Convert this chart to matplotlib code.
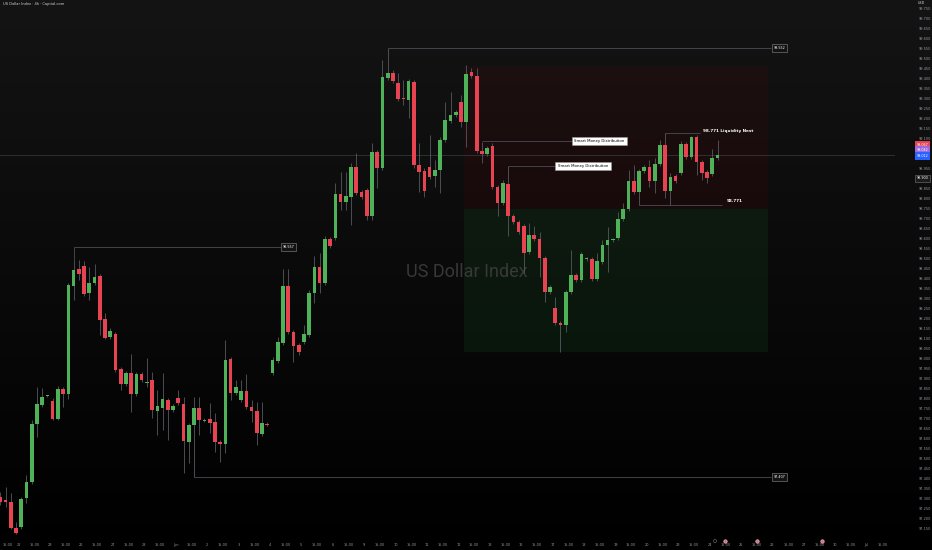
import matplotlib.pyplot as plt
import matplotlib.transforms as mtransforms
from matplotlib.colors import LinearSegmentedColormap
from matplotlib.patches import Rectangle
import numpy as np

# 4h candles
opens = [97.307, 97.292, 97.282, 97.152, 97.157, 97.302, 97.382, 97.672, 97.767, 97.812,
         97.787, 97.697, 97.847, 97.822, 98.362, 98.447, 98.462, 98.327, 98.377, 98.412,
         98.197, 98.107, 98.122, 97.947, 97.872, 97.927, 97.822, 97.922, 97.879, 97.892,
         97.737, 97.752, 97.792, 97.742, 97.802, 97.772, 97.582, 97.667, 97.752, 97.689,
         97.697, 97.682, 97.582, 97.572, 97.997, 97.827, 97.792, 97.837, 97.757, 97.737,
         97.622, 97.674, 97.927, 97.987, 98.077, 98.362, 98.132, 98.067, 98.082, 98.117,
         98.327, 98.457, 98.377, 98.597, 98.602, 98.822, 98.782, 98.807, 98.957, 98.832,
         98.842, 98.712, 99.032, 98.952, 99.402, 99.427, 99.377, 99.300, 99.292, 99.382,
         98.967, 98.937, 98.957, 98.912, 98.942, 99.092, 99.187, 99.217, 99.282, 99.182,
         99.432, 99.412, 99.037, 99.022, 99.062, 98.857, 98.777, 98.872, 98.712, 98.682,
         98.662, 98.532, 98.617, 98.597, 98.502, 98.332, 98.252, 98.177, 98.167, 98.332,
         98.417, 98.392, 98.495, 98.497, 98.397, 98.482, 98.567, 98.590, 98.602, 98.697,
         98.747, 98.887, 98.832, 98.937, 98.957, 98.887, 98.972, 99.067, 98.837, 98.912,
         98.927, 99.072, 99.007, 99.107, 98.982, 98.932, 98.922, 99.002]
highs = [97.332, 97.357, 97.327, 97.182, 97.307, 97.417, 97.692, 97.857, 97.852, 97.817,
         97.802, 97.862, 97.857, 98.377, 98.492, 98.492, 98.487, 98.457, 98.472, 98.422,
         98.227, 98.152, 98.132, 97.957, 97.937, 98.022, 97.932, 97.932, 98.002, 97.932,
         97.842, 97.927, 97.802, 97.772, 97.842, 97.807, 97.677, 97.807, 97.807, 97.702,
         97.777, 97.727, 97.592, 98.092, 98.007, 97.892, 97.892, 97.922, 97.792, 97.782,
         97.782, 97.682, 98.007, 98.107, 98.447, 98.447, 98.142, 98.077, 98.167, 98.342,
         98.512, 98.527, 98.612, 98.607, 98.877, 98.932, 98.932, 98.977, 99.027, 98.842,
         98.852, 99.077, 99.042, 99.492, 99.552, 99.442, 99.427, 99.392, 99.397, 99.392,
         99.077, 98.952, 99.117, 98.992, 99.107, 99.282, 99.332, 99.242, 99.317, 99.467,
         99.452, 99.452, 99.082, 99.062, 99.077, 98.867, 98.892, 98.962, 98.722, 98.692,
         98.672, 98.677, 98.662, 98.632, 98.512, 98.367, 98.307, 98.187, 98.342, 98.542,
         98.427, 98.532, 98.507, 98.507, 98.527, 98.592, 98.657, 98.602, 98.732, 98.777,
         98.942, 98.967, 98.947, 98.967, 98.992, 99.002, 99.092, 99.127, 98.927, 98.922,
         99.087, 99.082, 99.112, 99.117, 98.992, 98.942, 99.047, 99.092]
lows = [97.267, 97.257, 97.147, 97.122, 97.147, 97.277, 97.372, 97.607, 97.757, 97.807,
        97.692, 97.692, 97.757, 97.797, 98.292, 98.392, 98.312, 98.292, 98.367, 98.117,
        98.097, 98.097, 97.932, 97.842, 97.862, 97.732, 97.812, 97.882, 97.857, 97.702,
        97.617, 97.642, 97.592, 97.732, 97.767, 97.427, 97.477, 97.407, 97.617, 97.682,
        97.627, 97.532, 97.482, 97.527, 97.792, 97.817, 97.782, 97.747, 97.682, 97.567,
        97.612, 97.662, 97.917, 97.977, 98.067, 98.122, 97.982, 98.017, 98.072, 98.107,
        98.277, 98.327, 98.367, 98.552, 98.592, 98.742, 98.742, 98.667, 98.817, 98.797,
        98.692, 98.692, 98.852, 98.942, 99.392, 99.377, 99.287, 99.267, 99.202, 98.952,
        98.832, 98.807, 98.897, 98.857, 98.827, 99.082, 99.177, 99.207, 99.157, 99.057,
        99.402, 99.027, 98.977, 99.012, 98.847, 98.712, 98.767, 98.612, 98.672, 98.622,
        98.427, 98.522, 98.587, 98.407, 98.282, 98.322, 98.167, 98.032, 98.132, 98.322,
        98.382, 98.382, 98.487, 98.387, 98.387, 98.472, 98.432, 98.582, 98.592, 98.687,
        98.737, 98.822, 98.767, 98.927, 98.857, 98.827, 98.962, 98.802, 98.767, 98.877,
        98.917, 98.997, 98.997, 98.917, 98.892, 98.877, 98.912, 98.992]
closes = [97.282, 97.282, 97.152, 97.127, 97.297, 97.382, 97.672, 97.772, 97.807, 97.815,
          97.697, 97.847, 97.822, 98.367, 98.442, 98.422, 98.322, 98.377, 98.407, 98.192,
          98.102, 98.137, 97.942, 97.872, 97.927, 97.822, 97.922, 97.892, 97.884, 97.742,
          97.762, 97.797, 97.742, 97.762, 97.777, 97.587, 97.667, 97.752, 97.692, 97.694,
          97.677, 97.582, 97.572, 97.992, 97.827, 97.857, 97.837, 97.757, 97.737, 97.627,
          97.677, 97.669, 97.992, 98.082, 98.362, 98.132, 98.062, 98.032, 98.122, 98.327,
          98.457, 98.377, 98.597, 98.562, 98.822, 98.782, 98.812, 98.957, 98.827, 98.807,
          98.712, 99.032, 98.952, 99.407, 99.427, 99.387, 99.297, 99.295, 99.387, 98.967,
          98.932, 98.837, 98.907, 98.942, 99.092, 99.192, 99.217, 99.232, 99.182, 99.422,
          99.412, 99.037, 99.022, 99.052, 98.857, 98.777, 98.877, 98.712, 98.682, 98.632,
          98.527, 98.617, 98.597, 98.502, 98.332, 98.357, 98.177, 98.167, 98.332, 98.417,
          98.392, 98.522, 98.500, 98.397, 98.487, 98.567, 98.592, 98.595, 98.697, 98.747,
          98.887, 98.832, 98.937, 98.957, 98.887, 98.972, 99.067, 98.837, 98.907, 98.887,
          99.072, 99.007, 99.107, 98.982, 98.927, 98.902, 99.002, 99.017]

day_labels = ["22", "23", "26", "27", "28", "Jun", "2", "3", "4", "5", "6", "9", "10", "11",
              "12", "13", "16", "17", "18", "19", "20", "23", "24", "25", "26", "27", "30", "Jul"]

# levels drawn on the chart
swing_high = 99.552
swing_mid = 98.557
swing_low = 97.407
liq_nest = 99.127
nest_low = 98.767
smd1 = 99.087
smd2 = 98.962
zone_top = 99.462
zone_mid = 98.747
zone_bot = 98.032
marked_price = 98.900

W, H = 932, 550
fig = plt.figure(figsize=(W / 100, H / 100), dpi=100)
fig.patch.set_facecolor('black')

bg = fig.add_axes([0, 0, 1, 1], zorder=0)
cmap = LinearSegmentedColormap.from_list('bg', ['#141414', '#000000'])
bg.imshow(np.linspace(0, 1, 256).reshape(-1, 1), aspect='auto', cmap=cmap,
          extent=[0, 1, 0, 1], origin='upper')
bg.set_xlim(0, 1)
bg.set_ylim(0, 1)
bg.axis('off')

ax = fig.add_axes([0, 12 / H, 895 / W, 538 / H], zorder=1)
ax.patch.set_alpha(0)

o = np.array(opens)
c = np.array(closes)
hi = np.array(highs)
lo = np.array(lows)
idx = np.arange(len(o))
up = c >= o
green, red = '#4fb258', '#e84351'
cols = np.where(up, green, red)

# zones
ax.add_patch(Rectangle((88.6, zone_mid), 58, zone_top - zone_mid,
                       facecolor=(0.35, 0.02, 0.02), alpha=0.16, lw=0, zorder=1))
ax.add_patch(Rectangle((88.6, zone_bot), 58, zone_mid - zone_bot,
                       facecolor=(0.1, 0.45, 0.15), alpha=0.14, lw=0, zorder=1))

ax.text(89.1, 98.432, 'US Dollar Index', ha='center', va='center', color='#383838',
        fontsize=13, family='Roboto', zorder=1)

ax.axhline(closes[-1], color='#3a3d44', lw=0.5, zorder=2)

ax.vlines(idx, lo, hi, color='#55595f', lw=0.6, zorder=3)
ax.bar(idx, np.maximum(np.abs(c - o), 0.004), bottom=np.minimum(o, c), width=0.7,
       color=cols, lw=0, zorder=4)

lvl = dict(color='#4a4d55', lw=0.6, zorder=2)
box = dict(boxstyle='square,pad=0.5', facecolor='#131313', edgecolor='#8a8a8a', lw=0.4)
ax.hlines(swing_high, 74, 147.3, **lvl)
ax.text(148.8, swing_high, f'{swing_high:.3f}', fontsize=2.4, color='white',
        ha='center', va='center', bbox=box, zorder=6)
ax.hlines(swing_mid, 14, 53.6, **lvl)
ax.vlines(14, highs[14], swing_mid, **lvl)
ax.text(55, swing_mid, f'{swing_mid:.3f}', fontsize=2.4, color='white',
        ha='center', va='center', bbox=box, zorder=6)
ax.hlines(swing_low, 37, 147.3, **lvl)
ax.text(148.8, swing_low, f'{swing_low:.3f}', fontsize=2.4, color='white',
        ha='center', va='center', bbox=box, zorder=6)

wbox = dict(boxstyle='square,pad=0.6', facecolor='white', edgecolor='#999999', lw=0.4)
ax.hlines(smd1, 92, 109.7, **lvl)
ax.text(114.4, smd1, 'Smart Money Distribution', fontsize=2.8, color='black',
        ha='center', va='center', bbox=wbox, zorder=6)
ax.hlines(smd2, 97, 106.6, **lvl)
ax.text(111.3, smd2, 'Smart Money Distribution', fontsize=2.8, color='black',
        ha='center', va='center', bbox=wbox, zorder=6)

ax.hlines(liq_nest, 127, 133.7, **lvl)
ax.text(134.2, liq_nest + 0.012, '98.771 Liquidity Nest', fontsize=3, color='white',
        weight='bold', ha='left', va='center', zorder=6)
ax.hlines(nest_low, 122, 137.9, **lvl)
ax.text(138.8, nest_low + 0.018, '98.771', fontsize=3, color='white',
        weight='bold', ha='left', va='center', zorder=6)

ax.set_xlim(-0.06, 170.9)
ax.set_ylim(97.102, 99.792)
for s in ax.spines.values():
    s.set_visible(False)

# price scale, leaving room for the tags
tag_prices = [99.067, 99.042, 99.012]
yt = [t for t in np.round(np.arange(97.15, 99.76, 0.05), 3)
      if abs(t - marked_price) > 0.02 and min(abs(t - p) for p in tag_prices) > 0.02]
ax.yaxis.tick_right()
ax.set_yticks(yt)
ax.set_yticklabels([f'{t:.3f}' for t in yt])
ax.tick_params(axis='y', length=0, labelsize=2.5, labelcolor='#9598a1', pad=17)

xt = [0.5 + 3 * k for k in range(57)]
xl = ['15:00' if k % 2 == 0 else day_labels[k // 2] for k in range(57)]
ax.set_xticks(xt)
ax.set_xticklabels(xl)
ax.tick_params(axis='x', length=0, labelsize=2.5, labelcolor='#9598a1', pad=3.5)
ax.get_xticklabels()[0].set_horizontalalignment('left')

# last price tags on the price scale
tr = mtransforms.blended_transform_factory(ax.transAxes, ax.transData)
for p, col in zip(tag_prices, ['#e84351', '#9c6ade', '#2962ff']):
    ax.text(1.031, p, f'{p:.3f}', transform=tr, fontsize=2.4, color='white',
            ha='center', va='center', clip_on=False, zorder=7,
            bbox=dict(boxstyle='square,pad=0.5', facecolor=col, lw=0))
ax.text(1.031, marked_price, f'{marked_price:.3f}', transform=tr, fontsize=2.4,
        color='white', ha='center', va='center', clip_on=False, zorder=7,
        bbox=dict(boxstyle='square,pad=0.5', facecolor='#1c1c1c', edgecolor='#777777', lw=0.4))

fig.text(3 / W, 1 - 4 / H, 'US Dollar Index · 4h · Capital.com', fontsize=2.6,
         color='#d1d4dc', va='center', ha='left')
fig.text(921 / W, 1 - 3 / H, 'USD', fontsize=2.4, color='#d1d4dc', va='center', ha='center')

ev_y = 1 - 541 / H
bg.scatter([715 / W], [ev_y], s=5, facecolors='none', edgecolors='#777777', lw=0.4, zorder=3)
bg.scatter([725 / W, 757 / W, 822 / W], [ev_y] * 3, s=6, c='#e06377', lw=0.5,
           edgecolors='#f0c0c8', zorder=3)

fig.savefig('out.png', dpi=100, facecolor=fig.get_facecolor())
